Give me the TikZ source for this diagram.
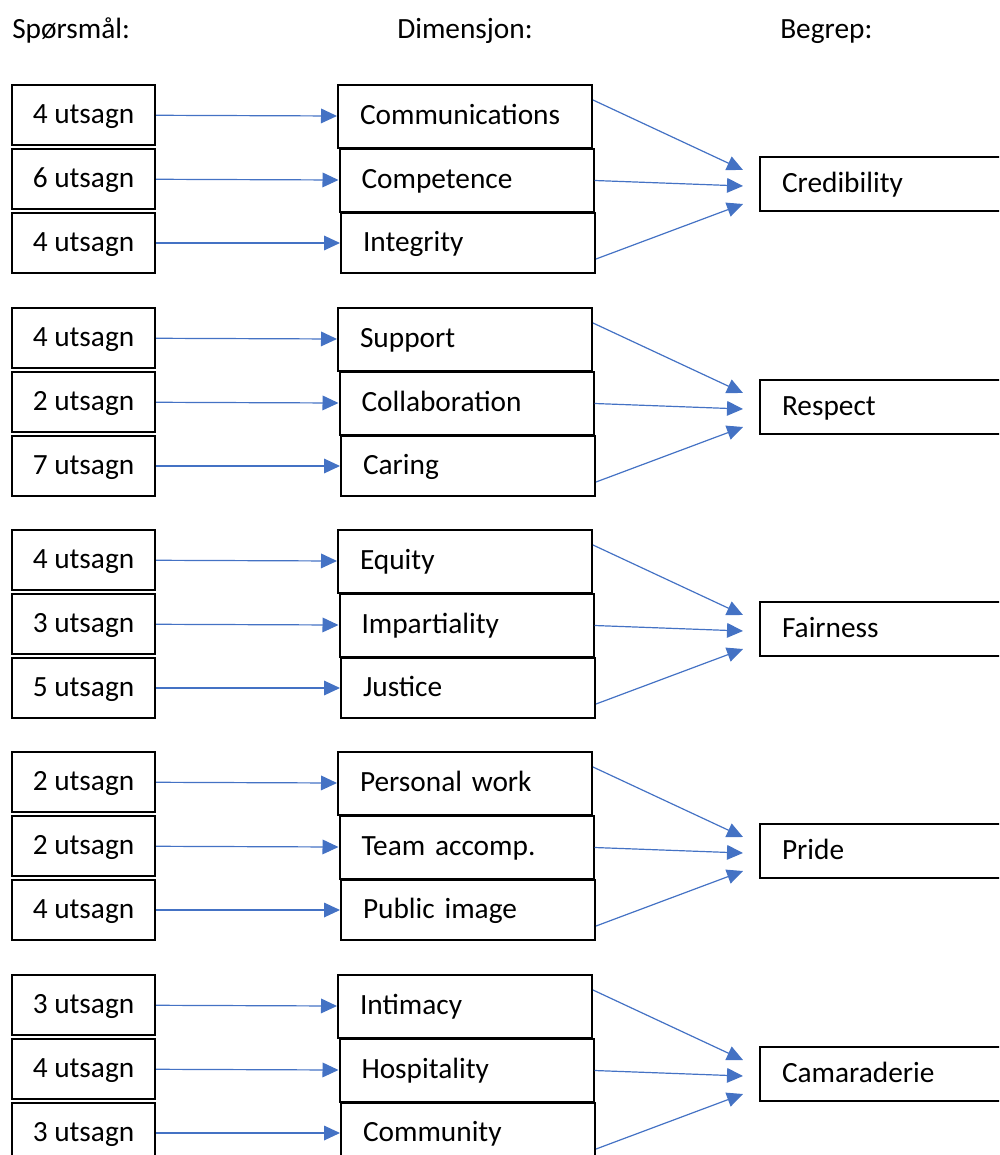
\documentclass[tikz,border=0pt]{standalone}
\usepackage{fontspec}
\setmainfont{Carlito}
\usetikzlibrary{arrows.meta,calc}
\definecolor{linkblue}{HTML}{4472C4}
\begin{document}
\begin{tikzpicture}[x=0.75pt,y=-0.75pt,
  every node/.style={font=\fontsize{22}{26}\selectfont},
  framed/.style={draw, line width=1.5pt, text height=12.5pt, text depth=0pt},
  qbox/.style={framed, minimum width=107.25pt, minimum height=45pt, inner sep=0pt},
  dbox/.style={framed, text width=157.5pt, inner xsep=16.5pt, inner ysep=0pt, align=left},
  cbox/.style={framed, text width=147.75pt, inner xsep=16.5pt, inner ysep=0pt, minimum height=40.5pt, align=left},
  link/.style={draw=linkblue, line width=0.9pt, -{Triangle[length=12pt,width=11pt]}},
  head/.style={anchor=base west, inner sep=0pt}
]
\useasboundingbox (0,0) rectangle (999,1155);
\clip (0,0) rectangle (999,1155);

% column headings
\node[head] (h1) at (12,39) {Spørsmål:};
\node[head] (h2) at (397,39) {Dimensjon:};
\node[head] (h3) at (780,39) {Begrep:};

% one block per concept: three item counts -> three dimensions -> concept
\foreach \g/\qa/\qb/\qc/\da/\db/\dc/\cc [count=\i] in {
  0/4/6/4/Communications/Competence/Integrity/Credibility,
  223/4/2/7/Support/Collaboration/Caring/Respect,
  445/4/3/5/Equity/Impartiality/Justice/Fairness,
  667/2/2/4/Personal work/Team accomp./Public image/Pride,
  890/3/4/3/Intimacy/Hospitality/Community/Camaraderie}{
  \begin{scope}[shift={(0,\g)}]
    \node[qbox] (q\i a) at (83.5,115) {\qa\ utsagn};
    \node[qbox] (q\i b) at (83.5,179) {\qb\ utsagn};
    \node[qbox] (q\i c) at (83.5,243) {\qc\ utsagn};
    \node[dbox, minimum height=47.25pt] (d\i a) at (465,116.5) {\da};
    \node[dbox, minimum height=47.25pt] (d\i b) at (466.5,180.5) {\db};
    \node[dbox, minimum height=45pt] (d\i c) at (468,243) {\dc};
    \node[cbox] (c\i) at (880.5,184) {\cc};
    \draw[link] (q\i a) -- (d\i a);
    \draw[link] (q\i b) -- (d\i b);
    \draw[link] (q\i c) -- (d\i c);
    \draw[link] ($(d\i a.north east)+(0,16)$) -- ($(c\i.west)+(-16,-14)$);
    \draw[link] (d\i b.east) -- ($(c\i.west)+(-16,2)$);
    \draw[link] ($(d\i c.south east)+(0,-15)$) -- ($(c\i.west)+(-16,20)$);
  \end{scope}
}
\end{tikzpicture}
\end{document}
